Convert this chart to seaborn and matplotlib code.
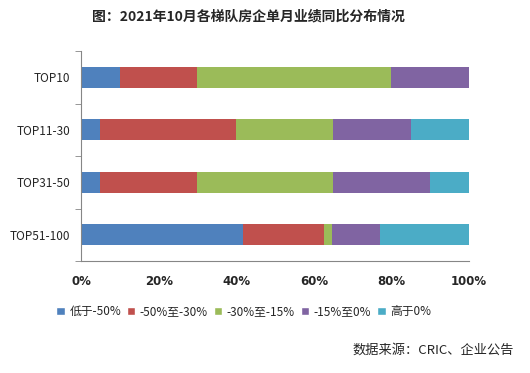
import numpy as np
import pandas as pd
import seaborn as sns
from matplotlib import pyplot as plt
from matplotlib.patches import Patch
from matplotlib.ticker import FixedLocator

# data (share of companies, %)
tiers = ['TOP10', 'TOP11-30', 'TOP31-50', 'TOP51-100']
groups = ['低于-50%', '-50%至-30%', '-30%至-15%', '-15%至0%', '高于0%']
below_50 = [10, 5, 5, 41.7]
m50_m30 = [20, 35, 25, 20.8]
m30_m15 = [50, 25, 35, 2.1]
m15_0 = [20, 20, 25, 12.5]
above_0 = [0, 15, 10, 22.9]
colors = ['#4F81BD', '#C0504D', '#9BBB59', '#8064A2', '#4BACC6']

sns.set_style('white')
plt.rcParams['font.family'] = ['Noto Sans CJK SC', 'DejaVu Sans']

df = pd.DataFrame({'tier': tiers, groups[0]: below_50, groups[1]: m50_m30,
                   groups[2]: m30_m15, groups[3]: m15_0, groups[4]: above_0})
cum = df[groups].cumsum(axis=1)

fig = plt.figure(figsize=(5.3, 3.73), dpi=100)
ax = fig.add_axes([0.153, 0.300, 0.732, 0.563])

# stacked bars: draw cumulative totals from the widest down
for g, c in reversed(list(zip(groups, colors))):
    sns.barplot(x=cum[g], y=df['tier'], color=c, width=0.4, orient='h',
                saturation=1, ax=ax, linewidth=0)

ax.set_xlim(0, 100)
ax.set_ylim(3.5, -0.5)
ax.set_xlabel('')
ax.set_ylabel('')
ax.set_xticks([0, 20, 40, 60, 80, 100])
ax.set_xticklabels(['0%', '20%', '40%', '60%', '80%', '100%'],
                   fontweight='bold', fontsize=8.5, family='DejaVu Sans')
ax.tick_params(axis='x', length=4, color='#868686', pad=6)
ax.tick_params(axis='y', which='major', length=0, labelsize=8.5, pad=8)
ax.yaxis.set_minor_locator(FixedLocator([-0.5, 0.5, 1.5, 2.5, 3.5]))
ax.tick_params(axis='y', which='minor', length=4, color='#868686', left=True)
for s in ['top', 'right']:
    ax.spines[s].set_visible(False)
for s in ['left', 'bottom']:
    ax.spines[s].set_color('#868686')

fig.text(0.468, 0.955, '图：2021年10月各梯队房企单月业绩同比分布情况',
         ha='center', va='center', fontsize=10, fontweight='bold')

handles = [Patch(facecolor=c, label=g) for g, c in zip(groups, colors)]
fig.legend(handles=handles, loc='center', bbox_to_anchor=(0.46, 0.165), ncol=5,
           frameon=False, fontsize=8.5, handlelength=0.7, handleheight=0.7,
           handletextpad=0.4, columnspacing=0.5)

fig.text(0.97, 0.062, '数据来源：CRIC、企业公告', ha='right', va='center', fontsize=9.5)

fig.savefig('out.png', dpi=100)
